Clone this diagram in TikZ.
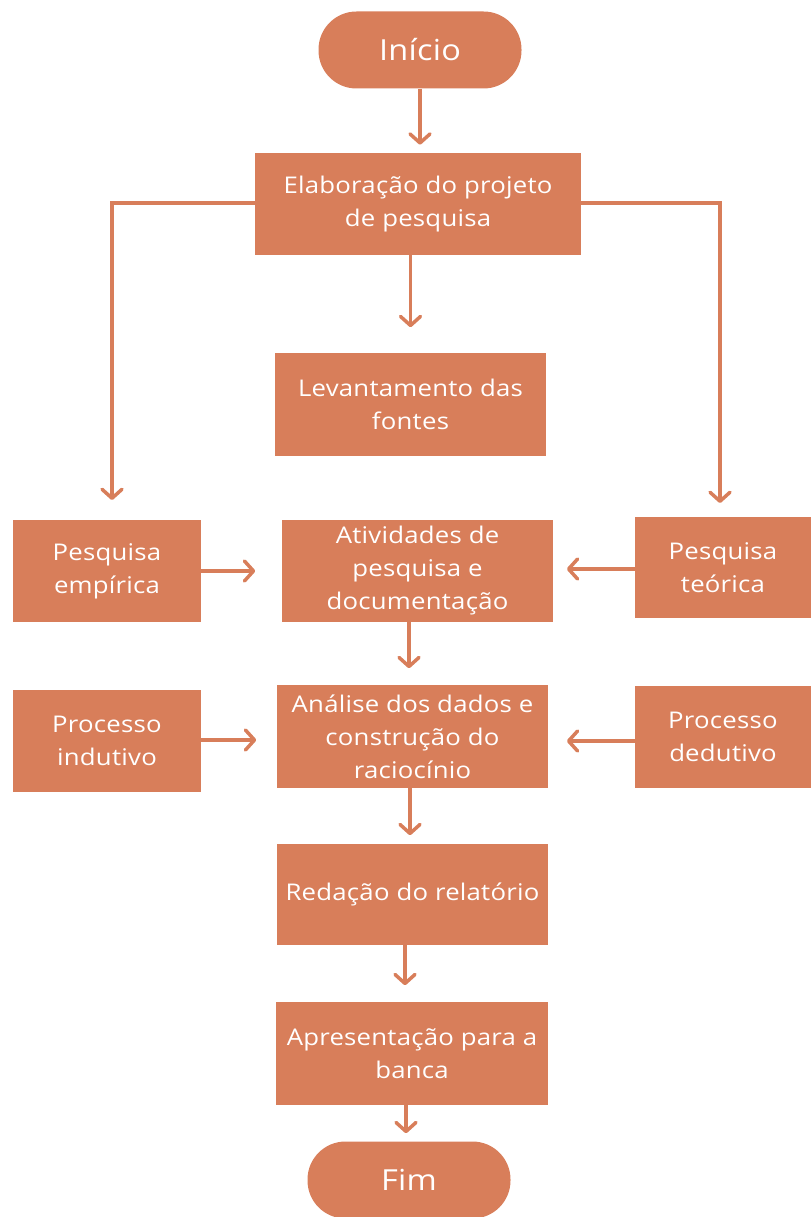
\documentclass[tikz,border=0pt]{standalone}
\usepackage{fontspec}
\setmainfont{Open Sans}
\newfontfamily\boxfont[FakeStretch=1.12, LetterSpace=1]{Open Sans}
\usetikzlibrary{arrows.meta}
\definecolor{terra}{RGB}{216,126,90}
\tikzset{
	box/.style={fill=terra, text=white, align=center, inner sep=0pt,
		font=\boxfont\fontsize{23}{33}\selectfont},
	pill/.style={box, rounded corners=38pt, minimum width=203pt, minimum height=77pt,
		font=\boxfont\fontsize{29}{33}\selectfont},
	arr/.style={draw=terra, line width=3.5pt,
		-{Straight Barb[round, length=9pt, width=20pt]}}
}
\begin{document}
\begin{tikzpicture}[x=1pt, y=-1pt]
	\useasboundingbox (0,0) rectangle (811,1217);
	%start and end
	\node[pill] (inicio) at (420,50) {Início};
	\node[pill] (fim) at (409,1180) {Fim};
	%main column
	\node[box, minimum width=326pt, minimum height=102pt] (elab) at (418,204)
		{Elaboração do projeto\\de pesquisa};
	\node[box, minimum width=271pt, minimum height=103pt] (lev) at (410.5,404.5)
		{Levantamento das\\fontes};
	\node[box, minimum width=271pt, minimum height=102pt] (ativ) at (417.5,571)
		{Atividades de\\pesquisa e\\documentação};
	\node[box, minimum width=271pt, minimum height=103pt] (anal) at (412.5,736.5)
		{Análise dos dados e\\construção do\\raciocínio};
	\node[box, minimum width=271pt, minimum height=101pt] (red) at (412.5,894.5)
		{Redação do relatório};
	\node[box, minimum width=272pt, minimum height=103pt] (apres) at (412,1053.5)
		{Apresentação para a\\banca};
	%side boxes
	\node[box, minimum width=188pt, minimum height=102pt] (emp) at (107,571)
		{Pesquisa\\empírica};
	\node[box, minimum width=176pt, minimum height=101pt] (teo) at (723,567.5)
		{Pesquisa\\teórica};
	\node[box, minimum width=188pt, minimum height=102pt] (ind) at (107,741)
		{Processo\\indutivo};
	\node[box, minimum width=176pt, minimum height=102pt] (ded) at (723,737)
		{Processo\\dedutivo};
	%free ends
	\coordinate (empTop) at (112,500);
	\coordinate (teoTop) at (720,503);
	%arrows
	\draw[arr] (inicio.south) -- ++(0,56);
	\draw[arr] (elab.south -| lev.north) -- ++(0,72);
	\draw[arr] (elab.west |- 0,203) -| (empTop);
	\draw[arr] (elab.east |- 0,203) -| (teoTop);
	\draw[arr] (emp.east) -- ++(54,0);
	\draw[arr] (teo.west |- 0,569) -- ++(-68,0);
	\draw[arr] (ativ.south -| 409,0) -- ++(0,46);
	\draw[arr] (ind.east |- 0,740) -- ++(55,0);
	\draw[arr] (ded.west |- 0,741) -- ++(-68,0);
	\draw[arr] (anal.south -| 410,0) -- ++(0,47);
	\draw[arr] (red.south -| 405,0) -- ++(0,40);
	\draw[arr] (apres.south -| 406,0) -- ++(0,28);
\end{tikzpicture}
\end{document}
